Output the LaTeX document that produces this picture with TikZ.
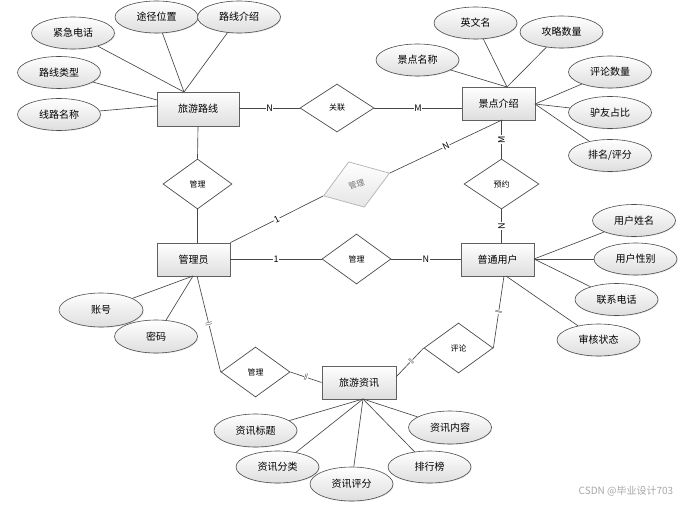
\documentclass[tikz,border=0pt]{standalone}
\usepackage{fontspec}
\setmainfont{Noto Sans CJK SC}
\usetikzlibrary{shapes.geometric,shadows}
\tikzset{
 ln/.style={draw=black!72, line width=0.65pt},
 ent/.style={rectangle, draw=black!62, line width=0.8pt, top color=white, bottom color=black!13, minimum height=33pt, inner sep=0pt, font=\fontsize{10}{12}\selectfont, drop shadow={shadow xshift=1pt, shadow yshift=-1pt, opacity=0.25}},
 attr/.style={ellipse, draw=black!70, line width=0.6pt, top color=white, bottom color=black!13, minimum width=83pt, minimum height=32pt, inner sep=0pt, font=\fontsize{10}{12}\selectfont, drop shadow={shadow xshift=0.8pt, shadow yshift=-0.8pt, opacity=0.2}},
 rel/.style={diamond, draw=black!70, line width=0.7pt, fill=white, minimum width=69pt, minimum height=50pt, inner sep=0pt, font=\fontsize{8}{10}\selectfont},
 lab/.style={fill=white, inner sep=0.6pt, font=\fontsize{9}{10}\selectfont},
 tick/.style={sloped, fill=white, inner sep=0.3pt, font=\fontsize{6}{6}\selectfont},
}
\begin{document}
\begin{tikzpicture}[x=1pt, y=-1pt]
\useasboundingbox (0,0) rectangle (695,505);
\fill[white] (0,0) rectangle (695,505);

% entities
\node[ent, minimum width=82pt, minimum height=34pt] (lx) at (198,109) {旅游路线};
\node[ent, minimum width=73pt] (jd) at (498.5,103.5) {景点介绍};
\node[ent, minimum width=73pt] (gly) at (193.5,259.5) {管理员};
\node[ent, minimum width=73pt] (yh) at (497.5,259.5) {普通用户};
\node[ent, minimum width=74pt] (zx) at (359,382.5) {旅游资讯};

% relations
\node[rel, minimum width=74pt, minimum height=48pt] (gl) at (337,108) {关联};
\node[rel] (gm1) at (197.5,184) {管理};
\node[rel, minimum width=75pt] (yy) at (501.5,184) {预约};
\node[rel] (gm2) at (356.5,259) {管理};
\node[rel] (pl) at (458.5,348) {评论};
\node[rel] (gm3) at (255.5,372) {管理};
\node[rel, rotate=19, draw=black!30, top color=white, bottom color=black!10, text=black!55, minimum width=70pt, minimum height=48pt] (gf) at (356.5,184.5) {管理};

% attributes of 旅游路线
\node[attr] (a1) at (73,33) {紧急电话};
\node[attr] (a2) at (156.5,17) {途径位置};
\node[attr] (a3) at (239,17) {路线介绍};
\node[attr] (a4) at (59,72.5) {路线类型};
\node[attr] (a5) at (59,114.5) {线路名称};
% attributes of 景点介绍
\node[attr] (b1) at (475.5,23) {英文名};
\node[attr] (b2) at (561.5,32) {攻略数量};
\node[attr] (b3) at (417.5,60) {景点名称};
\node[attr] (b4) at (610,72) {评论数量};
\node[attr] (b5) at (610,112.5) {驴友占比};
\node[attr] (b6) at (610,155.5) {排名/评分};
% attributes of 普通用户
\node[attr] (c1) at (634,220.5) {用户姓名};
\node[attr] (c2) at (635.5,259) {用户性别};
\node[attr] (c3) at (616.5,299.5) {联系电话};
\node[attr] (c4) at (598.5,340) {审核状态};
% attributes of 管理员
\node[attr, minimum width=84pt, minimum height=34pt] (d1) at (101,310) {账号};
\node[attr, minimum height=33pt] (d2) at (156,336.5) {密码};
% attributes of 旅游资讯
\node[attr, minimum height=33pt] (e1) at (255.5,430.5) {资讯标题};
\node[attr] (e2) at (277.5,467) {资讯分类};
\node[attr, minimum height=34pt] (e3) at (351.5,484) {资讯评分};
\node[attr] (e4) at (429.5,467) {排行榜};
\node[attr, minimum height=33pt] (e5) at (450,427.5) {资讯内容};

% anchor points on entities
\coordinate (lxt) at (184,92);
\coordinate (lxl1) at (157,100);
\coordinate (lxl2) at (157,106);
\coordinate (jdt) at (507,87);
\coordinate (jdr) at (535,104);
\coordinate (jdb) at (502,120);
\coordinate (yhr) at (534,259);
\coordinate (yhb) at (504,276);
\coordinate (yhb2) at (506,276);
\coordinate (glyb) at (197,276);
\coordinate (glyb2) at (193,276);
\coordinate (zxr) at (396,377);
\coordinate (zxb) at (363,399);

% attribute lines
\foreach \n in {a1,a2,a3} \draw[ln] (\n) -- (lxt);
\draw[ln] (a4) -- (lxl1);
\draw[ln] (a5) -- (lxl2);
\foreach \n in {b1,b2,b3} \draw[ln] (\n) -- (jdt);
\foreach \n in {b4,b5,b6} \draw[ln] (\n) -- (jdr);
\foreach \n in {c1,c2,c3} \draw[ln] (\n) -- (yhr);
\draw[ln] (c4) -- (yhb2);
\foreach \n in {d1,d2} \draw[ln] (\n) -- (glyb2);
\foreach \n in {e1,e2,e3,e4,e5} \draw[ln] (\n) -- (zxb);

% relationship lines
\draw[ln] (lx.east |- gl.west) -- node[lab]{N} (gl.west);
\draw[ln] (gl.east) -- node[lab]{M} (gl.east -| jd.west);
\draw[ln] (lx.south) -- (gm1.north);
\draw[ln] (gm1.south) -- (gm1.south |- gly.north);
\draw[ln] (gly.north east) -- node[lab, sloped]{1} (gf.west);
\draw[ln] (gf.east) -- node[lab, sloped]{N} (jdb);
\draw[ln] (yy.north) -- node[lab, rotate=90]{M} (yy.north |- jd.south);
\draw[ln] (yy.south) -- node[lab, rotate=90]{N} (yy.south |- yh.north);
\draw[ln] (gly.east |- gm2.west) -- node[lab]{1} (gm2.west);
\draw[ln] (gm2.east) -- node[lab]{N} (gm2.east -| yh.west);
\draw[ln] (pl.east) -- node[tick]{||} (yhb);
\draw[ln] (pl.west) -- node[tick, pos=0.45]{||} (zxr);
\draw[ln] (glyb) -- node[tick]{||} (gm3.west);
\draw[ln] (gm3.east) -- node[tick]{||} (zx.west);

% watermark
\node[text=black!35, font=\fontsize{10}{12}\selectfont] (wm) at (626,491) {CSDN @毕业设计703};
\end{tikzpicture}
\end{document}
